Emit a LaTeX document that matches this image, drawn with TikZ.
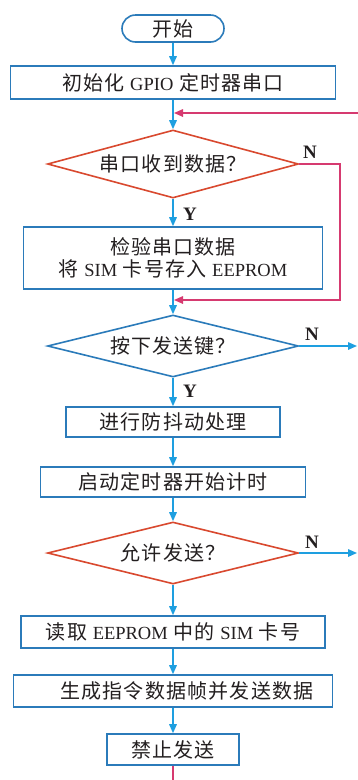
\documentclass[tikz,border=0pt]{standalone}
\usepackage{fontspec}
\setmainfont{Noto Sans CJK SC}[LetterSpace=6]
\newfontfamily\latf{Liberation Serif}
\newcommand\lt[1]{{\latf\fontsize{18.5}{22}\selectfont #1}}
\usetikzlibrary{shapes.geometric,arrows.meta}
\definecolor{bbox}{HTML}{2B7BBA}
\definecolor{barrow}{HTML}{1E9FE0}
\definecolor{rdia}{HTML}{D9492F}
\definecolor{pk}{HTML}{D63A70}
\definecolor{txt}{HTML}{231F20}
\tikzset{
  box/.style={draw=bbox, line width=1.6pt, fill=white, inner sep=0pt, text=txt,
    font=\fontsize{20}{22}\selectfont, align=center},
  term/.style={box, rounded corners=13.5pt},
  dia/.style={diamond, aspect=3.7, line width=1.6pt, fill=white, inner sep=0pt, text=txt,
    font=\fontsize{20}{22}\selectfont, minimum width=251, minimum height=62},
  arr/.style={draw=barrow, line width=1.5pt, -{Triangle[length=9pt,width=7.5pt]}},
  parr/.style={draw=pk, line width=1.5pt, -{Triangle[length=9pt,width=7.5pt]}},
  pline/.style={draw=pk, line width=1.5pt},
  lbl/.style={font=\latf\bfseries\fontsize{19}{19}\selectfont, text=txt, inner sep=0pt}
}
\begin{document}
\begin{tikzpicture}[x=1pt,y=-1pt]
\useasboundingbox (0,0) rectangle (358,780);
\fill[white] (0,0) rectangle (358,780);

\node[term, minimum width=102, minimum height=27] (start) at (173,28.5) {开始};
\node[box, minimum width=325, minimum height=33] (init) at (173,82.5) {初始化 \lt{GPIO} 定时器串口};
\node[dia, draw=rdia, minimum height=68] (d1) at (173,164) {串口收到数据？};
\node[box, minimum width=299, minimum height=62] (b2) at (173,258) {检验串口数据\\将 \lt{SIM} 卡号存入 \lt{EEPROM}};
\node[dia, draw=bbox] (d2) at (173,346) {按下发送键？};
\node[box, minimum width=214, minimum height=30] (b3) at (173,422) {进行防抖动处理};
\node[box, minimum width=265, minimum height=30] (b4) at (173,482) {启动定时器开始计时};
\node[dia, draw=rdia] (d3) at (173,553) {允许发送？};
\node[box, minimum width=304, minimum height=32] (b5) at (173,632) {读取 \lt{EEPROM} 中的 \lt{SIM} 卡号};
\node[box, minimum width=319, minimum height=32] (b6) at (173,691) {\hspace*{28pt}生成指令数据帧并发送数据};
\node[box, minimum width=132, minimum height=31] (b7) at (173,749.5) {禁止发送};

\coordinate (topin) at (358,113);
\coordinate (m1) at (174,113);
\coordinate (n1a) at (340,164);
\coordinate (n1b) at (340,300);
\coordinate (m2) at (174,300);
\coordinate (n2) at (357,346);
\coordinate (n3) at (357,553);
\coordinate (bot) at (173,780);

\draw[arr] (start) -- (init);
\draw[arr] (init) -- (d1);
\draw[arr] (d1) -- (b2);
\draw[arr] (b2) -- (d2);
\draw[arr] (d2) -- (b3);
\draw[arr] (b3) -- (b4);
\draw[arr] (b4) -- (d3);
\draw[arr] (d3) -- (b5);
\draw[arr] (b5) -- (b6);
\draw[arr] (b6) -- (b7);
\draw[arr] (d2.east) -- (n2);
\draw[arr] (d3.east) -- (n3);
\draw[parr] (topin) -- (m1);
\draw[parr] (d1.east) -- (n1a) -- (n1b) -- (m2);
\draw[pline] (b7) -- (bot);

\node[lbl] (y1) at (190,214) {Y};
\node[lbl] (y2) at (190,391) {Y};
\node[lbl] (nl1) at (310,152) {N};
\node[lbl] (nl2) at (312,334) {N};
\node[lbl] (nl3) at (312,542) {N};
\end{tikzpicture}
\end{document}
